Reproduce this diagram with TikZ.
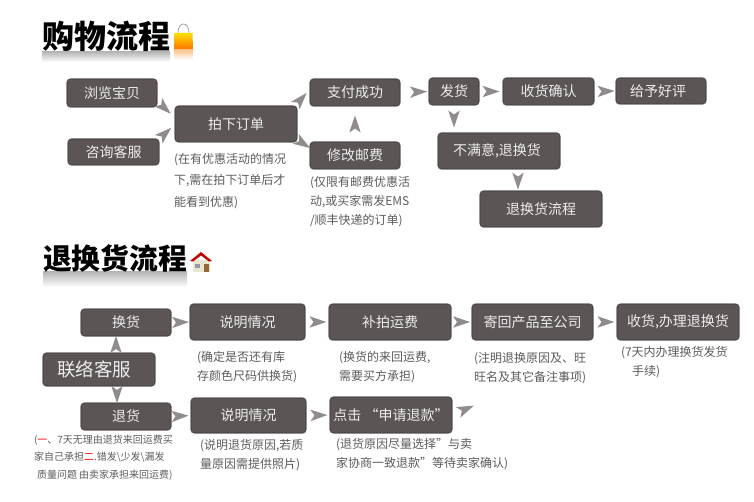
\documentclass[tikz,border=0pt]{standalone}
\usepackage{fontspec}
\setmainfont{Noto Sans CJK SC}
\definecolor{boxfill}{HTML}{5C5555}
\definecolor{boxedge}{HTML}{3E3A3A}
\definecolor{boxglow}{HTML}{CFCCCC}
\definecolor{kitecol}{HTML}{918C8C}
\definecolor{notecol}{HTML}{5E5A5A}
\tikzset{
  box/.style={rectangle,rounded corners=3.5pt,fill=boxfill,draw=boxedge,line width=.6pt,
    preaction={draw=boxglow,line width=1.8pt},inner sep=0pt,outer sep=0pt,
    text=white!93!black,font=\fontsize{14}{14}\selectfont,align=center},
  bigbox/.style={box,font=\fontsize{18.5}{18.5}\selectfont},
  note/.style={anchor=north west,inner sep=0pt,outer sep=0pt,text=notecol,align=left,
    font=\fontsize{12}{19.3}\selectfont},
  smallnote/.style={note,font=\fontsize{10}{17.5}\selectfont},
  titletext/.style={anchor=west,inner sep=0pt,outer sep=0pt,text=black,font=\bfseries},
  fade/.style={top color=black!28,bottom color=white,draw=none},
  pics/kitearrow/.style={code={\fill[kitecol] (8.5,0) -- (-8.5,-5.7) -- (-4.5,0) -- (-8.5,5.7) -- cycle;}}
}
\newcommand{\kiteconn}[3][.5]{\path (#2) -- (#3) pic[pos=#1,sloped,allow upside down]{kitearrow};}
\begin{document}
\begin{tikzpicture}[x=1pt,y=-1pt]
\useasboundingbox (0,0) rectangle (754,502);
\fill[white] (0,0) rectangle (754,502);
% titles
\fill[fade] (42,52) rectangle (170,62);
\node[titletext] (t1) at (42,36) {\fontsize{32}{32}\selectfont 购物流程};
\fill[fade] (43,272) rectangle (187,287);
\node[titletext] (t2) at (43,258.5) {\fontsize{28.8}{29}\selectfont 退换货流程};
% bag icon
\draw[black!35,line width=.8pt] (178,33) .. controls (178,21) and (189,21) .. (189,33);
\shade[top color=yellow!75!orange,bottom color=orange!85!red] (174.5,33) -- (192.5,33) -- (193,50) -- (174,50) -- cycle;
\shade[top color=orange!45,bottom color=white] (174,50) rectangle (193,60);
% house icon
\fill[yellow!12!white!90!black] (193,260) rectangle (210,272);
\fill[brown!80!black] (203.5,264) rectangle (208.5,272);
\fill[blue!25!black!40] (195,264) rectangle (200,268);
\fill[red!75!black] (201,252) -- (212,261) -- (209,261.5) -- (201,255.5) -- (193,261.5) -- (190,261) -- cycle;
% first flow
\node[box,minimum width=90pt,minimum height=28pt] (browse) at (112,93) {浏览宝贝};
\node[box,minimum width=91pt,minimum height=26pt] (consult) at (113.5,152) {咨询客服};
\node[box,minimum width=122pt,minimum height=36pt] (order) at (236,124) {拍下订单};
\node[box,minimum width=90pt,minimum height=27pt] (paid) at (355,92.5) {支付成功};
\node[box,minimum width=90pt,minimum height=27pt] (postage) at (355,155.5) {修改邮费};
\node[box,minimum width=50pt,minimum height=27pt] (ship) at (454,91.5) {发货};
\node[box,minimum width=91pt,minimum height=27pt] (confirm) at (548.5,91.5) {收货确认};
\node[box,minimum width=90pt,minimum height=26pt] (praise) at (661,91) {\hspace*{-6pt}给予好评};
\node[box,minimum width=122pt,minimum height=36pt] (unhappy) at (499,151) {\hspace*{-4pt}不满意,退换货};
\node[box,minimum width=122pt,minimum height=36pt] (returnflow) at (541,209) {退换货流程};
\node[note,font=\fontsize{12}{21.5}\selectfont] (n1) at (174,153) {(在有优惠活动的情况\\下,需在拍下订单后才\\能看到优惠)};
\node[note] (n2) at (310,176) {(仅限有邮费优惠活\\动,或买家需发EMS\\/顺丰快递的订单)};
% second flow
\node[bigbox,minimum width=112pt,minimum height=33pt] (contact) at (99,369.5) {\hspace*{-10pt}联络客服};
\node[box,minimum width=90pt,minimum height=27pt] (exch) at (126,322.5) {换货};
\node[box,minimum width=90pt,minimum height=27pt] (refund) at (126,416.5) {退货};
\node[box,minimum width=115pt,minimum height=36pt] (exp1) at (247.5,322) {说明情况};
\node[box,minimum width=115pt,minimum height=35pt] (exp2) at (248.5,415.5) {说明情况};
\node[box,minimum width=122pt,minimum height=36pt] (rebuy) at (390,322) {补拍运费};
\node[box,minimum width=121pt,minimum height=36pt] (sendback) at (532.5,322) {寄回产品至公司};
\node[box,minimum width=122pt,minimum height=36pt] (receive) at (678,322) {收货,办理退换货};
\node[box,minimum width=122pt,minimum height=36pt] (click) at (391,415) {点击 “申请退款”};
\coordinate (freeend) at (480,403);
\node[note] (n3) at (197,351) {(确定是否还有库\\存颜色尺码供换货)};
\node[note] (n4) at (339,351) {(换货的来回运费,\\需要买方承担)};
\node[note] (n5) at (474,352) {(注明退换原因及、旺\\旺名及其它备注事项)};
\node[note] (n6) at (621,346) {(7天内办理换货发货\\\hspace*{11pt}手续)};
\node[note] (n7) at (200,439) {(说明退货原因,若质\\量原因需提供照片)};
\node[note] (n8) at (336,438) {(退货原因尽量选择”与卖\\家协商一致退款”等待卖家确认)};
\node[smallnote] (n9) at (34,435) {(\textcolor{red}{一}、7天无理由退货来回运费买\\家自己承担\textcolor{red}{二}.错发\textbackslash 少发\textbackslash 漏发\\\hspace*{3pt}质量问题 由卖家承担来回运费)};
% arrows
\kiteconn{[yshift=6pt]browse.south east}{[xshift=-3pt,yshift=-9pt]order.north west}
\kiteconn{consult.north east}{[xshift=-4pt,yshift=14pt]order.south west}
\kiteconn{[xshift=-2pt]order.north east}{[xshift=-3pt]paid.west}
\kiteconn{[xshift=-1pt,yshift=3pt]order.south east}{[yshift=-6pt]postage.north west}
\kiteconn{postage.north}{paid.south}
\kiteconn[.64]{paid.east}{ship.west}
\kiteconn{ship.east}{confirm.west}
\kiteconn[.55]{confirm.east}{praise.west}
\kiteconn{ship.south}{[xshift=-45pt]unhappy.north}
\kiteconn[.55]{[xshift=19pt]unhappy.south}{[xshift=-23pt]returnflow.north}
\kiteconn{[xshift=17pt]contact.north}{[xshift=-10pt]exch.south}
\kiteconn{[xshift=18pt]contact.south}{[xshift=-9pt]refund.north}
\kiteconn{exch.east}{exp1.west}
\kiteconn[.45]{refund.east}{exp2.west}
\kiteconn[.54]{exp1.east}{rebuy.west}
\kiteconn[.54]{exp2.east}{click.west}
\kiteconn{rebuy.east}{sendback.west}
\kiteconn[.54]{sendback.east}{receive.west}
\kiteconn{click.east}{freeend}
\end{tikzpicture}
\end{document}
